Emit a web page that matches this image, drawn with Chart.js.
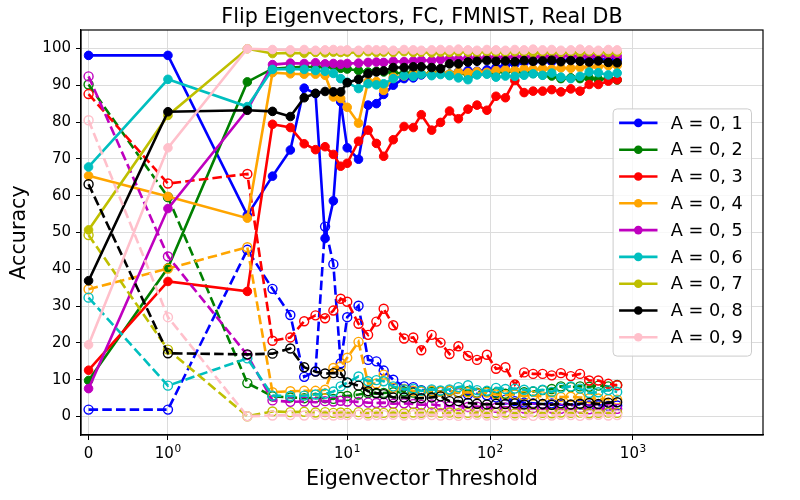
<!DOCTYPE html>
<html>
<head>
<meta charset="utf-8">
<script src="https://cdn.jsdelivr.net/npm/chart.js@4.4.1/dist/chart.umd.min.js"></script>
<style>
  body { margin: 0; background: #fff; }
  #flipChart { display: block; }
</style>
</head>
<body>
<canvas id="flipChart" width="800" height="500"></canvas>
<script>
// umbrales de eigenvectores (eje x, escala symlog con linthresh = 2)
const umbrales = [0, 1, 2, 3, 4, 5, 6, 7, 8, 9, 10, 12, 14, 16, 18, 21, 25, 29, 33, 39,
    45, 52, 60, 70, 81, 95, 110, 128, 149, 173, 200, 233, 270, 313, 367, 426, 494, 572, 672, 775];

const nombres = ['A = 0, 1', 'A = 0, 2', 'A = 0, 3', 'A = 0, 4', 'A = 0, 5',
    'A = 0, 6', 'A = 0, 7', 'A = 0, 8', 'A = 0, 9'];

const colores = ['#0000ff', '#008000', '#ff0000', '#ffa500', '#bf00bf',
    '#00bfbf', '#bfbf00', '#000000', '#ffc0cb'];

const xTicks = [0, 1, 10, 100, 1000];
const xTickBase = ['0', '10', '10', '10', '10'];
const xTickExp = ['', '0', '1', '2', '3'];
const yTicks = [0, 10, 20, 30, 40, 50, 60, 70, 80, 90, 100];

// precisión (linea solida)
const acc01 = [98.1, 98.1, 54.7, 65.3, 72.4, 89.2, 87.7, 48.4, 58.6, 85.5, 73.0, 69.9, 84.6, 85.0, 87.5, 90.0, 91.8, 92.0, 92.8, 93.0,
    93.3, 93.0, 93.6, 94.0, 93.8, 94.2, 94.8, 95.4, 95.8, 96.2, 96.4, 96.6, 96.4, 96.8, 96.9, 96.7, 97.0, 96.9, 97.1, 97.0];
const acc02 = [9.8, 40.4, 90.9, 94.5, 94.8, 95.0, 94.9, 95.0, 95.2, 94.6, 94.4, 94.0, 93.6, 93.8, 93.6, 93.4, 93.2, 93.5, 93.0, 93.3,
    93.2, 93.0, 93.4, 93.1, 93.5, 93.2, 93.6, 93.8, 93.9, 93.4, 93.2, 92.8, 92.5, 91.8, 92.0, 91.8, 91.9, 91.6, 91.8, 91.4];
const acc03 = [12.6, 36.7, 34.0, 79.4, 78.5, 74.1, 72.5, 73.3, 71.2, 68.0, 68.8, 74.8, 77.8, 74.2, 70.7, 75.2, 78.8, 78.5, 82.0, 77.8,
    79.9, 83.0, 80.9, 83.5, 84.6, 83.2, 87.0, 86.6, 91.3, 88.0, 88.4, 88.4, 88.8, 88.2, 89.0, 88.4, 90.2, 90.2, 91.1, 91.5];
const acc04 = [65.4, 59.8, 53.9, 93.4, 93.1, 93.0, 93.0, 92.7, 86.8, 86.4, 84.0, 79.7, 91.0, 91.0, 88.6, 92.2, 92.5, 93.0, 93.2, 93.0,
    93.3, 93.0, 93.5, 93.4, 93.7, 93.5, 94.0, 94.2, 94.0, 94.4, 94.3, 94.5, 94.4, 94.7, 94.6, 94.8, 95.0, 95.1, 95.3, 95.4];
const acc05 = [7.6, 56.5, 83.3, 95.6, 96.0, 95.9, 96.1, 95.8, 95.9, 95.7, 95.9, 96.0, 96.2, 96.3, 96.2, 96.5, 96.4, 96.6, 96.8, 96.7,
    97.0, 97.2, 97.1, 97.4, 97.3, 97.5, 97.6, 97.5, 97.7, 97.8, 97.7, 97.9, 97.8, 97.9, 98.0, 97.8, 98.0, 97.9, 98.0, 97.9];
const acc06 = [67.8, 91.6, 84.2, 94.3, 94.4, 94.3, 94.0, 93.8, 93.2, 91.8, 90.8, 89.1, 90.4, 90.1, 90.4, 91.8, 92.6, 92.4, 93.0, 92.6,
    92.9, 92.6, 92.0, 91.5, 92.8, 93.0, 92.2, 92.5, 92.4, 92.7, 93.1, 92.7, 93.3, 92.2, 91.8, 92.4, 93.6, 93.4, 92.8, 93.3];
const acc07 = [50.7, 81.8, 99.9, 98.6, 98.8, 98.7, 98.9, 98.8, 99.0, 98.9, 99.0, 98.8, 99.1, 98.9, 99.0, 98.9, 99.1, 98.9, 99.0, 98.8,
    99.0, 98.9, 99.1, 99.0, 98.9, 99.1, 99.0, 98.9, 99.1, 99.0, 98.8, 99.0, 99.1, 98.9, 99.0, 98.9, 99.1, 99.0, 98.9, 99.0];
const acc08 = [36.9, 82.8, 83.2, 82.9, 81.5, 86.6, 87.8, 88.3, 88.2, 88.2, 90.7, 91.6, 93.1, 93.6, 93.9, 94.8, 94.8, 95.0, 95.0, 94.8,
    94.5, 95.8, 95.8, 96.3, 96.5, 96.7, 96.5, 96.6, 96.4, 96.7, 96.5, 96.6, 96.8, 96.4, 96.7, 96.5, 96.3, 96.6, 96.2, 96.1];
const acc09 = [19.5, 73.0, 99.9, 99.7, 99.6, 99.7, 99.5, 99.6, 99.7, 99.5, 99.6, 99.5, 99.7, 99.6, 99.6, 99.5, 99.7, 99.6, 99.5, 99.6,
    99.7, 99.6, 99.8, 99.6, 99.5, 99.7, 99.6, 99.5, 99.7, 99.6, 99.8, 99.6, 99.7, 99.5, 99.6, 99.8, 99.6, 99.5, 99.7, 99.6];

// linea punteada (circulos vacios)
const flip01 = [1.9, 1.9, 45.3, 34.7, 27.6, 10.8, 12.3, 51.6, 41.4, 14.5, 27.0, 30.1, 15.4, 15.0, 12.5, 10.0, 8.2, 8.0, 7.2, 7.0,
    6.7, 7.0, 6.4, 6.0, 6.2, 5.8, 5.2, 4.6, 4.2, 3.8, 3.6, 3.4, 3.6, 3.2, 3.1, 3.3, 3.0, 3.1, 2.9, 3.0];
const flip02 = [90.2, 59.6, 9.1, 5.5, 5.2, 5.0, 5.1, 5.0, 4.8, 5.4, 5.6, 6.0, 6.4, 6.2, 6.4, 6.6, 6.8, 6.5, 7.0, 6.7,
    6.8, 7.0, 6.6, 6.9, 6.5, 6.8, 6.4, 6.2, 6.1, 6.6, 6.8, 7.2, 7.5, 8.2, 8.0, 8.2, 8.1, 8.4, 8.2, 8.6];
const flip03 = [87.6, 63.3, 65.9, 20.6, 21.5, 25.9, 27.5, 26.7, 28.8, 32.0, 31.2, 25.2, 22.2, 25.8, 29.3, 24.8, 21.2, 21.5, 18.0, 22.2,
    20.1, 17.0, 19.1, 16.5, 15.4, 16.8, 13.0, 13.4, 8.7, 12.0, 11.6, 11.6, 11.2, 11.8, 11.0, 11.6, 9.8, 9.8, 8.9, 8.5];
const flip04 = [34.6, 40.2, 46.0, 6.6, 6.9, 7.0, 7.0, 7.3, 13.2, 13.6, 16.0, 20.3, 9.0, 9.0, 11.4, 7.8, 7.5, 7.0, 6.8, 7.0,
    6.7, 7.0, 6.5, 6.6, 6.3, 6.5, 6.0, 5.8, 6.0, 5.6, 5.7, 5.5, 5.6, 5.3, 5.4, 5.2, 5.0, 4.9, 4.7, 4.6];
const flip05 = [92.4, 43.5, 16.7, 4.4, 4.0, 4.1, 3.9, 4.2, 4.1, 4.3, 4.1, 4.0, 3.8, 3.7, 3.8, 3.5, 3.6, 3.4, 3.2, 3.3,
    3.0, 2.8, 2.9, 2.6, 2.7, 2.5, 2.4, 2.5, 2.3, 2.2, 2.3, 2.1, 2.2, 2.1, 2.0, 2.2, 2.0, 2.1, 2.0, 2.1];
const flip06 = [32.3, 8.4, 15.8, 5.7, 5.6, 5.7, 6.0, 6.2, 6.8, 8.2, 9.2, 10.9, 9.6, 9.9, 9.6, 8.2, 7.4, 7.6, 7.0, 7.4,
    7.1, 7.4, 8.0, 8.5, 7.2, 7.0, 7.8, 7.5, 7.6, 7.3, 6.9, 7.3, 6.7, 7.8, 8.2, 7.6, 6.4, 6.6, 7.2, 6.7];
const flip07 = [49.3, 18.2, 0.1, 1.4, 1.2, 1.3, 1.1, 1.2, 1.0, 1.1, 1.0, 1.2, 0.9, 1.1, 1.0, 1.1, 0.9, 1.1, 1.0, 1.2,
    1.0, 1.1, 0.9, 1.0, 1.1, 0.9, 1.0, 1.1, 0.9, 1.0, 1.2, 1.0, 0.9, 1.1, 1.0, 1.1, 0.9, 1.0, 1.1, 1.0];
const flip08 = [63.1, 17.2, 16.9, 17.1, 18.5, 13.4, 12.2, 11.7, 11.8, 11.8, 9.3, 8.4, 6.9, 6.4, 6.1, 5.2, 5.2, 5.0, 5.0, 5.2,
    5.5, 4.2, 4.2, 3.7, 3.5, 3.3, 3.5, 3.4, 3.6, 3.3, 3.5, 3.4, 3.2, 3.6, 3.3, 3.5, 3.7, 3.4, 3.8, 3.9];
const flip09 = [80.5, 27.0, 0.1, 0.3, 0.4, 0.3, 0.5, 0.4, 0.3, 0.5, 0.4, 0.5, 0.3, 0.4, 0.4, 0.5, 0.3, 0.4, 0.5, 0.4,
    0.3, 0.4, 0.2, 0.4, 0.5, 0.3, 0.4, 0.5, 0.3, 0.4, 0.2, 0.4, 0.3, 0.5, 0.4, 0.2, 0.4, 0.5, 0.3, 0.4];

const solidas = [acc01, acc02, acc03, acc04, acc05, acc06, acc07, acc08, acc09];
const punteadas = [flip01, flip02, flip03, flip04, flip05, flip06, flip07, flip08, flip09];

// transformacion symlog de matplotlib (base 10, linthresh 2, linscale 1)
const LINTHRESH = 2;
const LINSCALE = 1 / (1 - 1 / 10);
function symlog(v) {
    if (v <= LINTHRESH) return v * LINSCALE;
    return LINTHRESH * (LINSCALE + Math.log10(v / LINTHRESH));
}

function puntos(valores) {
    return umbrales.map((u, i) => ({ x: symlog(u), y: valores[i] }));
}

// marco completo, etiquetas 10^n, leyenda y titulo centrado sobre los ejes
const extrasPlugin = {
    id: 'extras',
    afterDraw(chart) {
        const c = chart.ctx;
        const area = chart.chartArea;
        const xs = chart.scales.x;
        c.save();
        c.strokeStyle = '#000';
        c.lineWidth = 1.2;
        c.strokeRect(area.left, area.top, area.right - area.left, area.bottom - area.top);

        c.fillStyle = '#000';
        c.font = '20.7px "DejaVu Sans"';
        c.textAlign = 'center';
        c.textBaseline = 'alphabetic';
        c.fillText('Flip Eigenvectors, FC, FMNIST, Real DB', (area.left + area.right) / 2, 22.5);

        // etiquetas del eje x con exponente
        c.textAlign = 'left';
        xTicks.forEach((v, i) => {
            const px = xs.getPixelForValue(symlog(v));
            c.font = '15px "DejaVu Sans"';
            const wb = c.measureText(xTickBase[i]).width;
            c.font = '10.5px "DejaVu Sans"';
            const we = xTickExp[i] ? c.measureText(xTickExp[i]).width + 0.5 : 0;
            const x0 = px - (wb + we) / 2;
            c.font = '15px "DejaVu Sans"';
            c.fillText(xTickBase[i], x0, area.bottom + 23);
            if (xTickExp[i]) {
                c.font = '10.5px "DejaVu Sans"';
                c.fillText(xTickExp[i], x0 + wb + 0.5, area.bottom + 16.5);
            }
        });

        const fila = 26.8;
        const w = 138.4, h = fila * nombres.length + 6;
        const bx = area.right - 11.5 - w;
        const by = (area.top + area.bottom) / 2 - h / 2;
        c.beginPath();
        c.roundRect(bx, by, w, h, 4);
        c.fillStyle = 'rgba(255,255,255,0.8)';
        c.fill();
        c.strokeStyle = '#cccccc';
        c.lineWidth = 1;
        c.stroke();

        c.font = '17.7px "DejaVu Sans"';
        c.textAlign = 'left';
        c.textBaseline = 'middle';
        nombres.forEach((nombre, i) => {
            const y = by + 14 + i * fila;
            c.strokeStyle = colores[i];
            c.lineWidth = 2.6;
            c.beginPath();
            c.moveTo(bx + 6, y);
            c.lineTo(bx + 44.4, y);
            c.stroke();
            c.fillStyle = colores[i];
            c.beginPath();
            c.arc(bx + 25.2, y, 4.3, 0, Math.PI * 2);
            c.fill();
            c.fillStyle = '#000';
            c.fillText(nombre, bx + 57.7, y + 1);
        });
        c.restore();
    }
};

document.addEventListener('DOMContentLoaded', function () {
    const ctx = document.getElementById('flipChart').getContext('2d');
    Chart.defaults.font.family = '"DejaVu Sans", sans-serif';
    Chart.defaults.color = '#000';

    const datasets = [];
    nombres.forEach((nombre, i) => {
        datasets.push({
            label: nombre,
            data: puntos(solidas[i]),
            borderColor: colores[i],
            backgroundColor: colores[i],
            borderWidth: 2.6,
            pointRadius: 4.3,
            pointBorderWidth: 1,
            pointBackgroundColor: colores[i],
            pointBorderColor: colores[i],
            tension: 0,
            order: 100 - 2 * i
        });
        datasets.push({
            label: nombre + ' (flip)',
            data: puntos(punteadas[i]),
            borderColor: colores[i],
            backgroundColor: 'rgba(0,0,0,0)',
            borderWidth: 2.6,
            borderDash: [9.5, 4.2],
            pointRadius: 4.5,
            pointBorderWidth: 1.4,
            pointBackgroundColor: 'rgba(0,0,0,0)',
            pointBorderColor: colores[i],
            tension: 0,
            order: 99 - 2 * i
        });
    });

    new Chart(ctx, {
        type: 'line',
        data: { datasets: datasets },
        options: {
            responsive: false,
            animation: false,
            layout: { padding: { top: 30, right: 37, left: 0, bottom: 0 } },
            plugins: {
                legend: { display: false },
                tooltip: { enabled: false },
                title: { display: false }
            },
            scales: {
                x: {
                    type: 'linear',
                    min: -0.106,
                    max: 9.44,
                    afterBuildTicks: axis => { axis.ticks = xTicks.map(v => ({ value: symlog(v) })); },
                    afterFit: scale => { scale.height = 65; },
                    ticks: { display: false },
                    grid: { color: '#dcdcdc', lineWidth: 1, tickColor: '#000', tickLength: 5 },
                    border: { color: '#000', width: 1.2 },
                    title: {
                        display: true,
                        text: 'Eigenvector Threshold',
                        font: { size: 20.7 },
                        color: '#000',
                        padding: { top: 0, bottom: 7.7 }
                    }
                },
                y: {
                    type: 'linear',
                    min: -5,
                    max: 105,
                    afterBuildTicks: axis => { axis.ticks = yTicks.map(v => ({ value: v })); },
                    afterFit: scale => { scale.width = 81; },
                    ticks: { padding: 5, font: { size: 15 }, color: '#000' },
                    grid: { color: '#dcdcdc', lineWidth: 1, tickColor: '#000', tickLength: 5 },
                    border: { color: '#000', width: 1.2 },
                    title: {
                        display: true,
                        text: 'Accuracy',
                        font: { size: 20.7 },
                        color: '#000',
                        padding: { top: 7.5, bottom: 0 }
                    }
                }
            }
        },
        plugins: [extrasPlugin]
    });
});
</script>
</body>
</html>
